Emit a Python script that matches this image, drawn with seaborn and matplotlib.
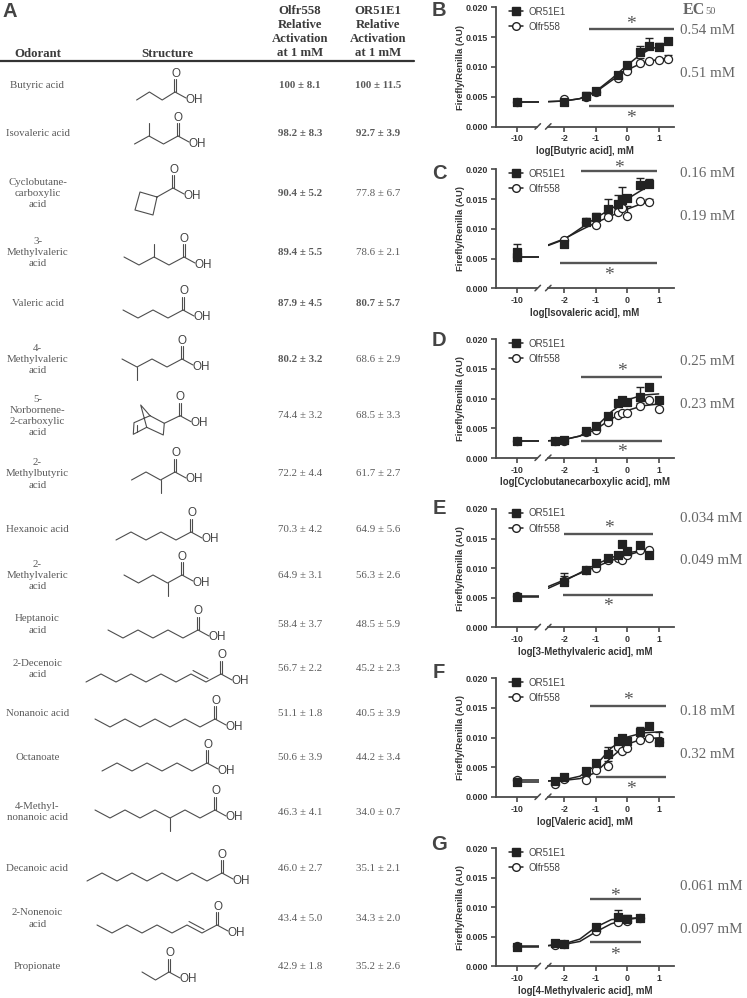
import pandas as pd
import seaborn as sns
import matplotlib
matplotlib.use('Agg')
import matplotlib.pyplot as plt
from matplotlib.lines import Line2D

W, H = 747, 998
GREY = '#4a4a4a'
TXT = '#5a5a5a'

# table A
odorants = ['Butyric acid', 'Isovaleric acid', 'Cyclobutane-\ncarboxylic\nacid', '3-\nMethylvaleric\nacid',
            'Valeric acid', '4-\nMethylvaleric\nacid', '5-\nNorbornene-\n2-carboxylic\nacid', '2-\nMethylbutyric\nacid',
            'Hexanoic acid', '2-\nMethylvaleric\nacid', 'Heptanoic\nacid', '2-Decenoic\nacid', 'Nonanoic acid',
            'Octanoate', '4-Methyl-\nnonanoic acid', 'Decanoic acid', '2-Nonenoic\nacid', 'Propionate']
olfr_vals = ['100 ± 8.1', '98.2 ± 8.3', '90.4 ± 5.2', '89.4 ± 5.5', '87.9 ± 4.5', '80.2 ± 3.2', '74.4 ± 3.2', '72.2 ± 4.4',
             '70.3 ± 4.2', '64.9 ± 3.1', '58.4 ± 3.7', '56.7 ± 2.2', '51.1 ± 1.8', '50.6 ± 3.9', '46.3 ± 4.1',
             '46.0 ± 2.7', '43.4 ± 5.0', '42.9 ± 1.8']
or51_vals = ['100 ± 11.5', '92.7 ± 3.9', '77.8 ± 6.7', '78.6 ± 2.1', '80.7 ± 5.7', '68.6 ± 2.9', '68.5 ± 3.3', '61.7 ± 2.7',
             '64.9 ± 5.6', '56.3 ± 2.6', '48.5 ± 5.9', '45.2 ± 2.3', '40.5 ± 3.9', '44.2 ± 3.4', '34.0 ± 0.7',
             '35.1 ± 2.1', '34.3 ± 2.0', '35.2 ± 2.6']
olfr_bold = [0, 1, 2, 3, 4, 5]
or51_bold = [0, 1, 4]
row_y = [85.5, 133, 193.7, 252.5, 304, 359.3, 416, 474, 529.5, 575.7, 624.5, 668.7, 713.7, 757.7, 812.3, 868.3, 918.5, 966.3]

# structures: acid carbon (x, y), carbons left of it, bond dx, branches {carbon index: direction}, double bond index
chains = [(175, 92, 3, 12.8, {}, None), (178, 136, 3, 14.5, {2: -1}, None), None,
          (184, 257, 4, 15, {2: -1}, None), (183, 310, 4, 15, {}, None), (182, 359, 4, 15, {3: 1}, None), None,
          (175, 472, 3, 14.5, {1: 1}, None), (191, 532, 5, 15, {}, None), (182, 575, 4, 14.5, {1: 1}, None),
          (198, 630, 6, 15, {}, None), (221, 674, 9, 15, {}, 1), (215, 719, 8, 15, {}, None),
          (207, 763, 7, 15, {}, None), (215, 810, 8, 15, {3: 1}, None), (222, 873, 9, 15, {}, None),
          (217, 925, 8, 15, {}, 1), (169, 972, 2, 13.5, {}, None)]
cyclo_ring = [(173, 188), (157, 197), (140, 192), (135, 210), (153, 215), (157, 197)]
norb_ring = [(150, 415.7), (164.3, 423.3), (163.3, 435), (146.7, 427.3), (133.3, 434.3), (134, 422.7), (150, 415.7),
             (140.7, 405), (146.7, 427.3)]

# panels B-G, (x, y, err)
b_or = ([-10, -2, -1.3, -1, -.3, 0, .4, .7, 1, 1.3], [.0041, .0041, .0052, .0059, .0087, .0103, .0125, .0135, .0133, .0144],
        [0, 0, .0006, 0, 0, .0005, .001, .0013, .0008, .0005])
b_ol = ([-10, -2, -1.3, -1, -.3, 0, .4, .7, 1, 1.3], [.0041, .0047, .0050, .0058, .0081, .0094, .0106, .0110, .0112, .0114],
        [0, 0, .0007, 0, 0, 0, .0009, 0, 0, .0006])
b_fit_x = [-2.5, -2, -1.5, -1, -.5, 0, .4, .7, 1.3]
b_fit_or = [.0042, .0043, .0047, .0059, .0080, .0103, .0120, .0129, .0140]
b_fit_ol = [.0042, .0043, .0047, .0058, .0077, .0095, .0105, .0110, .0115]

c_or = ([-10, -10, -2, -1.3, -1, -.6, -.3, -.15, 0, .4, .7], [.0053, .0061, .0074, .0112, .0120, .0134, .0141, .0148, .0151, .0174, .0175],
        [0, .0014, 0, .0006, .0006, .0016, .0015, .0022, .0006, .0012, .0008])
c_ol = ([-10, -2, -1.3, -1, -.6, -.3, -.15, 0, .4, .7], [.0053, .0082, .0112, .0107, .0120, .0128, .0135, .0121, .0147, .0145],
        [0, 0, 0, .0011, .0005, .0006, .0008, .0018, 0, .0005])
c_fit_x = [-2.5, -2, -1.5, -1, -.5, 0, .4, .7]
c_fit_or = [.0072, .0082, .0100, .0118, .0134, .0150, .0163, .0172]
c_fit_ol = [.0073, .0083, .0097, .0110, .0122, .0133, .0141, .0146]

d_or = ([-10, -2.3, -2, -1.3, -1, -.6, -.3, -.15, 0, .4, .7, 1], [.0028, .0029, .0031, .0046, .0054, .0070, .0092, .0098, .0095, .0102, .0120, .0097],
        [.0003, 0, 0, 0, .0004, .0005, 0, .0004, 0, .0017, 0, 0])
d_ol = ([-10, -2.3, -2, -1.3, -1, -.6, -.3, -.15, 0, .4, .7, 1], [.0028, .0029, .0028, .0044, .0047, .0060, .0072, .0075, .0075, .0088, .0098, .0083],
        [0, 0, 0, 0, 0, 0, .0004, .0004, .0003, .0005, 0, 0])
d_fit_x = [-2.5, -2, -1.5, -1, -.5, 0, .5, 1]
d_fit_or = [.0029, .0031, .0037, .0052, .0078, .0098, .0106, .0108]
d_fit_ol = [.0029, .0031, .0037, .0048, .0066, .0080, .0088, .0091]

e_or = ([-10, -2, -1.3, -1, -.6, -.3, -.15, 0, .4, .7], [.0051, .0077, .0097, .0108, .0118, .0123, .0141, .0129, .0139, .0122],
        [0, .0010, 0, .0004, 0, 0, 0, .0005, 0, 0])
e_ol = ([-10, -2, -1.3, -1, -.6, -.3, -.15, 0, .4, .7], [.0053, .0079, .0097, .0101, .0114, .0118, .0114, .0122, .0131, .0130],
        [0, .0012, 0, .0006, 0, 0, 0, 0, 0, 0])
e_fit_x = [-2.5, -2, -1.5, -1, -.5, 0, .4, .7]
e_fit_or = [.0066, .0078, .0092, .0106, .0118, .0126, .0129, .0131]
e_fit_ol = [.0069, .0080, .0091, .0102, .0113, .0122, .0128, .0132]

f_or = ([-10, -2.3, -2, -1.3, -1, -.6, -.3, -.15, 0, .4, .7, 1], [.0026, .0027, .0034, .0043, .0057, .0072, .0095, .0100, .0095, .0110, .0120, .0092],
        [.0006, 0, 0, 0, 0, .0012, 0, 0, .0005, .0008, 0, .0017])
f_ol = ([-10, -2.3, -2, -1.3, -1, -.6, -.3, -.15, 0, .4, .7, 1], [.0028, .0022, .0030, .0028, .0045, .0052, .0085, .0078, .0083, .0096, .0100, .0092],
        [.0004, 0, 0, .0007, 0, .0008, 0, .0005, 0, 0, 0, 0])
f_fit_x = [-2.5, -2, -1.5, -1, -.5, 0, .5, 1.1]
f_fit_or = [.0027, .0029, .0035, .0053, .0083, .0101, .0108, .0110]
f_fit_ol = [.0027, .0028, .0031, .0041, .0067, .0089, .0098, .0100]

g_or = ([-10, -2.3, -2, -1, -.3, 0, .4], [.0033, .0039, .0038, .0067, .0083, .0080, .0081], [0, 0, 0, 0, .0013, .0006, 0])
g_ol = ([-10, -2.3, -2, -1, -.3, 0, .4], [.0034, .0036, .0037, .0059, .0075, .0077, .0082], [0, 0, 0, 0, .0005, .0006, 0])
g_fit_x = [-2.5, -2, -1.5, -1, -.5, 0, .4]
g_fit_or = [.0035, .0038, .0046, .0066, .0079, .0081, .0082]
g_fit_ol = [.0035, .0037, .0042, .0058, .0072, .0079, .0082]

# letter, axis top/bottom px, data, x label, (x0, x1, y, star y) top and bottom bars, EC50 labels + y, label y
panels = [
    ('B', 7.3, 126.7, b_or, b_ol, b_fit_x, b_fit_or, b_fit_ol, 'log[Butyric acid], mM',
     (-1.22, 1.49, .0163, .0172), (-1.22, 1.49, .0035, .0013), ['0.54 mM', '0.51 mM'], [30.7, 73.3], 150.7, 10),
    ('C', 169.3, 288.3, c_or, c_ol, c_fit_x, c_fit_or, c_fit_ol, 'log[Isovaleric acid], mM',
     (-1.45, .94, .0197, .0202), (-2.12, .96, .0043, .0022), ['0.16 mM', '0.19 mM'], [173.3, 216], 312.7, 173),
    ('D', 339.3, 458, d_or, d_ol, d_fit_x, d_fit_or, d_fit_ol, 'log[Cyclobutanecarboxylic acid], mM',
     (-1.45, 1.09, .0136, .0145), (-1.45, 1.09, .0029, .0009), ['0.25 mM', '0.23 mM'], [361.7, 404.3], 482, 340),
    ('E', 509, 627.3, e_or, e_ol, e_fit_x, e_fit_or, e_fit_ol, 'log[3-Methylvaleric acid], mM',
     (-2.0, .83, .0158, .0167), (-2.04, .81, .0055, .0035), ['0.034 mM', '0.049 mM'], [519, 560.7], 652, 508),
    ('F', 678.3, 797, f_or, f_ol, f_fit_x, f_fit_or, f_fit_ol, 'log[Valeric acid], mM',
     (-1.19, 1.22, .0153, .0163), (-.98, 1.22, .0033, .0012), ['0.18 mM', '0.32 mM'], [711.7, 754], 821.7, 673),
    ('G', 848, 966.3, g_or, g_ol, g_fit_x, g_fit_or, g_fit_ol, 'log[4-Methylvaleric acid], mM',
     (-1.19, .44, .0113, .0118), (-1.19, .44, .0041, .0019), ['0.061 mM', '0.097 mM'], [887, 929.3], 991, 845),
]

sns.set_theme(style='ticks')
plt.rcParams['font.family'] = ['Liberation Sans', 'DejaVu Sans']
fig = plt.figure(figsize=(W / 100, H / 100), dpi=100)


def px_axes(l, t, r, b):
    return fig.add_axes([l / W, 1 - b / H, (r - l) / W, (b - t) / H])


over = px_axes(0, 0, W, H)
over.set_xlim(0, W)
over.set_ylim(H, 0)
over.axis('off')
over.set_zorder(5)


def serif(x, y, s, size=7.8, bold=False, color=TXT, ha='center'):
    over.text(x, y, s, family='Liberation Serif', fontsize=size, ha=ha, va='center', color=color,
              fontweight='bold' if bold else 'normal', linespacing=1.32, multialignment='center')


def bond(xs, ys):
    over.plot(xs, ys, color='#4d4d4d', lw=0.8, solid_capstyle='round')


def acid(x, y):
    bond([x - 0.9, x - 0.9], [y, y - 13])
    bond([x + 0.9, x + 0.9], [y, y - 13])
    bond([x, x + 11], [y, y + 6])
    over.text(x + 0.5, y - 18.5, 'O', fontsize=8.4, ha='center', va='center', color='#444444')
    over.text(x + 19, y + 7.5, 'OH', fontsize=8.4, ha='center', va='center', color='#444444')


def chain(x, y, n, dx, branches, dbl):
    xs, ys = [x], [y]
    for i in range(n):
        xs.append(xs[-1] - dx)
        ys.append(y + (8 if i % 2 == 0 else 0))
    bond(xs, ys)
    for k, d in branches.items():
        bond([xs[k], xs[k]], [ys[k], ys[k] + 13 * d])
    if dbl is not None:
        # second stroke of the C=C bond
        bond([xs[dbl] + 2, xs[dbl + 1] + 2], [ys[dbl] - 3.5, ys[dbl + 1] - 3.5])
    acid(x, y)


# table
for x, s in [(37.5, 'Odorant'), (167.7, 'Structure')]:
    serif(x, 54, s, 9.2, True, '#3c3c3c')
for x, s in [(300, 'Olfr558\nRelative\nActivation\nat 1 mM'), (378, 'OR51E1\nRelative\nActivation\nat 1 mM')]:
    over.text(x, 32, s, family='Liberation Serif', fontsize=9.2, fontweight='bold', ha='center', va='center',
              color='#3c3c3c', linespacing=1.2)
over.plot([0, 414], [61.3, 61.3], color='#333333', lw=1.6)

for i, y in enumerate(row_y):
    serif(37.5, y, odorants[i])
    serif(300, y, olfr_vals[i], bold=i in olfr_bold)
    serif(378, y, or51_vals[i], bold=i in or51_bold)
    if chains[i] is not None:
        chain(*chains[i])

bond(*zip(*cyclo_ring))
acid(173, 188)
bond(*zip(*norb_ring))
bond([136.5, 136.5], [424.5, 432])
bond([164.3, 180], [423.3, 415.7])
acid(180, 415.7)

over.text(10, 11, 'A', fontsize=14.5, fontweight='bold', ha='center', va='center', color='#444444')


def draw_group(ax_l, ax_r, pts, color, face, marker, size, zo):
    df = pd.DataFrame({'x': pts[0], 'y': pts[1], 'err': pts[2]})
    for ax, d in [(ax_l, df[df.x == -10]), (ax_r, df[df.x != -10])]:
        ax.errorbar(d.x, d.y, yerr=[d.err * 0, d.err], fmt='none', ecolor=color, elinewidth=1, capsize=2.8,
                    capthick=1, zorder=zo)
        sns.scatterplot(data=d, x='x', y='y', ax=ax, marker=marker, s=size, color=face, edgecolor=color,
                        linewidth=0.9, zorder=zo + 1, clip_on=False, legend=False)


for (letter, top, bot, s_or, s_ol, fit_x, fit_or, fit_ol, xlab, bar_t, bar_b, ec, ec_y, lab_y, let_y) in panels:
    # broken x axis: one axes for the -10 point, one for the dose range
    ax_l = px_axes(496, top, 539, bot)
    ax_r = px_axes(548, top, 674, bot)
    ax_l.set_xlim(-12.07, -7.77)
    ax_r.set_xlim(-2.51, 1.486)
    for ax in (ax_l, ax_r):
        ax.set_ylim(0, 0.020)
        ax.patch.set_alpha(0)
        sns.despine(ax=ax)
        for sp in ('left', 'bottom'):
            ax.spines[sp].set_linewidth(1.3)
            ax.spines[sp].set_color(GREY)
        ax.tick_params(length=3.5, width=1.2, color=GREY, labelsize=6.4, labelcolor='#333333', pad=2)
    ax_r.spines['left'].set_visible(False)
    ax_l.spines['bottom'].set_bounds(-12.07, -8)
    ax_r.tick_params(axis='y', left=False, labelleft=False)
    ax_l.set_xticks([-10])
    ax_r.set_xticks([-2, -1, 0, 1])
    ax_l.set_yticks([0, .005, .01, .015, .02])
    ax_l.set_yticklabels(['0.000', '0.005', '0.010', '0.015', '0.020'], fontweight='bold')
    ax_l.set_xticklabels(['-10'], fontweight='bold')
    ax_r.set_xticklabels(['-2', '-1', '0', '1'], fontweight='bold')

    # fit lines
    for fit in (fit_ol, fit_or):
        fd = pd.DataFrame({'x': fit_x, 'y': fit})
        sns.lineplot(data=fd, x='x', y='y', ax=ax_r, color='#222222', lw=1.1, errorbar=None, zorder=3)
    for b in (s_ol[1][0], s_or[1][0]):
        bd = pd.DataFrame({'x': [-10, -7.77], 'y': [b, b]})
        sns.lineplot(data=bd, x='x', y='y', ax=ax_l, color='#222222', lw=1.1, errorbar=None, zorder=3)

    draw_group(ax_l, ax_r, s_ol, '#222222', 'white', 'o', 34, 4)
    draw_group(ax_l, ax_r, s_or, '#222222', '#222222', 's', 32, 6)
    ax_l.set_xlabel('')
    ax_l.set_ylabel('')
    ax_r.set_xlabel('')
    ax_r.set_ylabel('')

    # significance bars
    for x0, x1, y, sy in (bar_t, bar_b):
        ax_r.plot([x0, x1], [y, y], color='#555555', lw=1.7, solid_capstyle='butt', clip_on=False, zorder=2)
        ax_r.text((x0 + x1) / 2, sy, '*', family='Liberation Serif', fontsize=14, ha='center', va='center',
                  color='#555555', clip_on=False)

    # break marks
    for sx in (535, 545.5):
        over.plot([sx, sx + 5.5], [bot + 2.5, bot - 3], color=GREY, lw=1.1)

    over.text(460.7, (top + bot) / 2, 'Firefly/Renilla (AU)', rotation=90, fontsize=6.8, fontweight='bold',
              ha='center', va='center', color='#333333')
    over.text(585, lab_y, xlab, fontsize=6.9, fontweight='bold', ha='center', va='center', color='#333333')
    over.text(439, let_y, letter, fontsize=14.5, fontweight='bold', ha='center', va='center', color='#444444')
    for s, y in zip(ec, ec_y):
        serif(680.5, y, s, 10.8, False, '#666666', 'left')

    handles = [Line2D([], [], color='#222222', lw=1.1, marker='s', ms=5.5, mfc='#222222', mec='#222222'),
               Line2D([], [], color='#222222', lw=1.1, marker='o', ms=5.5, mfc='white', mec='#222222')]
    leg = over.legend(handles, ['OR51E1', 'Olfr558'], loc='upper left', frameon=False, fontsize=7, handlelength=1.4,
                      handletextpad=0.6, labelspacing=0.52, borderpad=0, borderaxespad=0,
                      bbox_to_anchor=(509, top - 0.5), bbox_transform=over.transData, labelcolor='#444444')
    over.add_artist(leg)
    over.legend_ = None

serif(683, 10, 'EC', 11.5, True, '#666666', 'left')
serif(705.5, 11.5, '50', 7.5, False, '#666666', 'left')

fig.savefig('out.png', dpi=100)
